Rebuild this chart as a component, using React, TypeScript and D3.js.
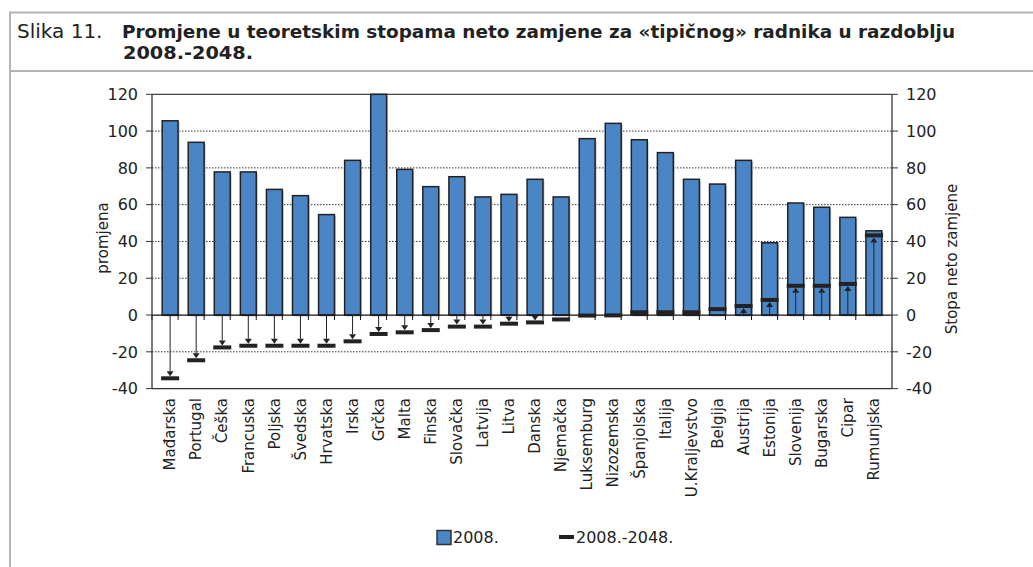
import React from "react";
import { scaleBand, scaleLinear } from "d3";

const countries = [
  "Mađarska", "Portugal", "Češka", "Francuska", "Poljska", "Švedska", "Hrvatska",
  "Irska", "Grčka", "Malta", "Finska", "Slovačka", "Latvija", "Litva", "Danska",
  "Njemačka", "Luksemburg", "Nizozemska", "Španjolska", "Italija", "U.Kraljevstvo",
  "Belgija", "Austrija", "Estonija", "Slovenija", "Bugarska", "Cipar", "Rumunjska",
];

// stopa 2008.
const rate2008 = [
  105.6, 93.9, 77.8, 77.8, 68.3, 64.9, 54.6, 84.1, 120, 79.2, 69.8, 75.2, 64.2, 65.6,
  73.8, 64.2, 95.9, 104.2, 95.3, 88.3, 73.8, 71.2, 84.1, 39.3, 60.9, 58.6, 53.1, 45.8,
];

// promjena 2008.-2048.
const change = [
  -34.4, -24.6, -17.6, -16.7, -16.7, -16.7, -16.7, -14.3, -10.3, -9.4, -8.2, -6.3, -6.3,
  -4.7, -4.0, -2.4, -0.3, -0.2, 1.5, 1.5, 1.5, 3.2, 4.9, 8.2, 15.9, 15.9, 16.9, 43.3,
];

const yTicks = [-40, -20, 0, 20, 40, 60, 80, 100, 120];
const gridTicks = [-20, 20, 40, 60, 80, 100];

const W = 1033;
const H = 567;
const BLUE = "#4a85c6";
const INK = "#222";
const FONT = "DejaVu Sans";

export default function App() {
  const x = scaleBand<string>().domain(countries).range([152, 892]).padding(0.39);
  const y = scaleLinear().domain([-40, 120]).range([388.6, 94.3]);
  const y0 = y(0);
  const step = x.step();
  const bw = x.bandwidth();
  const markW = 18;
  const markH = 4;

  return (
    <svg
      width={W}
      height={H}
      style={{ position: "absolute", left: 0, top: 0, background: "#fff" }}
      fontFamily={FONT}
    >
      {/* okvir */}
      <rect x={0} y={0} width={W} height={H} fill="#fff" />
      <line x1={10} x2={W} y1={12.5} y2={12.5} stroke="#b4b4b4" strokeWidth={2} />
      <line x1={10} x2={W} y1={71} y2={71} stroke="#b4b4b4" strokeWidth={2} />
      <line x1={10} x2={10} y1={11.5} y2={H} stroke="#b4b4b4" strokeWidth={2} />

      {/* naslov */}
      <text x={17} y={37.5} fontSize={20} fill={INK}>Slika 11.</text>
      <text
        x={122}
        y={37.5}
        fontSize={18}
        fontWeight="bold"
        fill={INK}
        textLength={833}
        lengthAdjust="spacingAndGlyphs"
      >
        Promjene u teoretskim stopama neto zamjene za «tipičnog» radnika u razdoblju
      </text>
      <text
        x={123}
        y={59}
        fontSize={18}
        fontWeight="bold"
        fill={INK}
        textLength={130}
        lengthAdjust="spacingAndGlyphs"
      >
        2008.-2048.
      </text>

      {/* mreža */}
      {gridTicks.map((t) => (
        <line
          key={"g" + t}
          x1={152}
          x2={892}
          y1={y(t)}
          y2={y(t)}
          stroke="#333"
          strokeWidth={1}
          strokeDasharray="1.5,1.5"
        />
      ))}
      <line x1={152} x2={892} y1={y(120)} y2={y(120)} stroke="#444" strokeWidth={1.3} />
      <line x1={152} x2={892} y1={y(-40)} y2={y(-40)} stroke="#333" strokeWidth={1.3} />

      {/* stupci 2008. */}
      {countries.map((c, i) => (
        <g key={"b" + c}>
          <rect
            x={(x(c) as number) + 1.5}
            y={y(rate2008[i]) + 1.5}
            width={bw}
            height={y0 - y(rate2008[i])}
            fill="#c8c8c8"
          />
          <rect
            x={x(c)}
            y={y(rate2008[i])}
            width={bw}
            height={y0 - y(rate2008[i])}
            fill={BLUE}
            stroke={INK}
            strokeWidth={1.5}
          />
        </g>
      ))}

      {/* nulta linija i oznake */}
      <line x1={152} x2={892} y1={y0} y2={y0} stroke="#111" strokeWidth={1.3} />
      {countries.map((c, i) => (
        <line
          key={"t" + c}
          x1={152 + i * step}
          x2={152 + i * step}
          y1={y0}
          y2={y0 + 5}
          stroke="#111"
          strokeWidth={1}
        />
      ))}

      {/* promjena: strelice i oznake */}
      {countries.map((c, i) => {
        const cx = (x(c) as number) + bw / 2;
        const v = change[i];
        const yv = y(v);
        const dir = v < 0 ? 1 : -1;
        const tip = yv - dir * (markH / 2);
        const headH = 5;
        const showArrow = Math.abs(yv - y0) > markH / 2 + headH;
        return (
          <g key={"c" + c}>
            {showArrow && (
              <>
                <line x1={cx} x2={cx} y1={y0} y2={tip - dir * headH} stroke={INK} strokeWidth={1} />
                <path
                  d={`M${cx - 3.5},${tip - dir * headH} L${cx + 3.5},${tip - dir * headH} L${cx},${tip} Z`}
                  fill={INK}
                />
              </>
            )}
            <rect
              x={cx - markW / 2}
              y={yv - markH / 2}
              width={markW}
              height={markH}
              fill={INK}
            />
          </g>
        );
      })}

      {/* osi */}
      <line x1={152} x2={152} y1={y(120)} y2={y(-40)} stroke="#333" strokeWidth={1.3} />
      <line x1={892} x2={892} y1={y(120)} y2={y(-40)} stroke="#333" strokeWidth={1.3} />
      {yTicks.map((t) => (
        <g key={"y" + t}>
          <line x1={146} x2={152} y1={y(t)} y2={y(t)} stroke="#333" />
          <line x1={892} x2={898} y1={y(t)} y2={y(t)} stroke="#333" />
          <text x={138} y={y(t)} dy="0.36em" textAnchor="end" fontSize={16} fill={INK}>
            {t}
          </text>
          <text x={906} y={y(t)} dy="0.36em" textAnchor="start" fontSize={16} fill={INK}>
            {t}
          </text>
        </g>
      ))}
      <text
        transform={`translate(103,238) rotate(-90)`}
        dy="0.35em"
        textAnchor="middle"
        fontSize={15}
        fill={INK}
      >
        promjena
      </text>
      <text
        transform={`translate(951.5,259) rotate(-90)`}
        dy="0.35em"
        textAnchor="middle"
        fontSize={15}
        fill={INK}
      >
        Stopa neto zamjene
      </text>

      {/* nazivi zemalja */}
      {countries.map((c) => (
        <text
          key={"l" + c}
          transform={`translate(${(x(c) as number) + bw / 2},398) rotate(-90)`}
          dy="0.35em"
          textAnchor="end"
          fontSize={15}
          fill={INK}
        >
          {c}
        </text>
      ))}

      {/* legenda */}
      <rect x={437} y={530.5} width={14} height={14} fill={BLUE} stroke="#333" strokeWidth={1.5} />
      <text x={453} y={542.5} fontSize={16} fill={INK}>2008.</text>
      <rect x={559} y={535} width={15} height={4} fill={INK} />
      <text x={576} y={542.5} fontSize={16} fill={INK}>2008.-2048.</text>
    </svg>
  );
}
